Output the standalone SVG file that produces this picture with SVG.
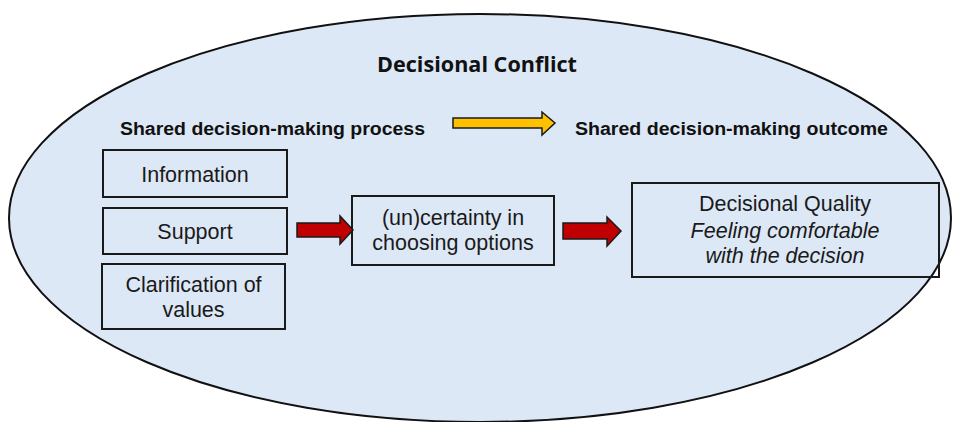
<svg xmlns="http://www.w3.org/2000/svg" width="953" height="422" viewBox="0 0 953 422">
<style>
.box{fill:none;stroke:#1a1a1a;stroke-width:2}
.t{font-family:"Liberation Sans",Arial,sans-serif;font-size:21.5px;fill:#1a1a1a;text-anchor:middle}
.i{font-style:italic}
.h{font-family:"Liberation Sans",Arial,sans-serif;font-weight:bold;font-size:18px;fill:#111}
.red{fill:#c00000;stroke:#1a1a1a;stroke-width:1.5;stroke-linejoin:miter}
.yel{fill:#ffc000;stroke:#1a1a1a;stroke-width:1.5}
</style>
<rect width="953" height="422" fill="#ffffff"/>
<g id="conflict">
<ellipse cx="480" cy="218" rx="471" ry="204" fill="#dde8f6" stroke="#111" stroke-width="2"/>
<text x="477" y="72" font-family="'Open Sans','Liberation Sans',sans-serif" font-weight="bold" font-size="21px" fill="#111" text-anchor="middle" textLength="200" lengthAdjust="spacingAndGlyphs">Decisional Conflict</text>
</g>
<g id="process-label"><text class="h" x="120" y="135" textLength="305" lengthAdjust="spacingAndGlyphs">Shared decision-making process</text></g>
<g id="outcome-label"><text class="h" x="575" y="135" textLength="313" lengthAdjust="spacingAndGlyphs">Shared decision-making outcome</text></g>
<g id="information"><rect class="box" x="103" y="150" width="184" height="47"/><text class="t" x="195" y="182">Information</text></g>
<g id="support"><rect class="box" x="103" y="208" width="184" height="46"/><text class="t" x="195" y="239">Support</text></g>
<g id="clarification"><rect class="box" x="102" y="264" width="183" height="65"/><text class="t" x="193.5" y="292">Clarification of</text><text class="t" x="193.5" y="317">values</text></g>
<g id="uncertainty"><rect class="box" x="352" y="196" width="202" height="69"/><text class="t" x="453" y="225">(un)certainty in</text><text class="t" x="453" y="250">choosing options</text></g>
<g id="quality"><rect class="box" x="632" y="183" width="307" height="94"/><text class="t" x="785" y="211">Decisional Quality</text><text class="t i" x="785" y="238">Feeling comfortable</text><text class="t i" x="785" y="263">with the decision</text></g>
<g id="connectors">
<polygon class="yel" points="453,118 542,118 542,112 555,123 542,135 542,128 453,128"/>
<polygon class="red" points="297,223 340,223 340,216 353,230 340,244 340,237 297,237"/>
<polygon class="red" points="563,223 607,223 607,217 621,231 607,246 607,239 563,239"/>
</g>
</svg>
